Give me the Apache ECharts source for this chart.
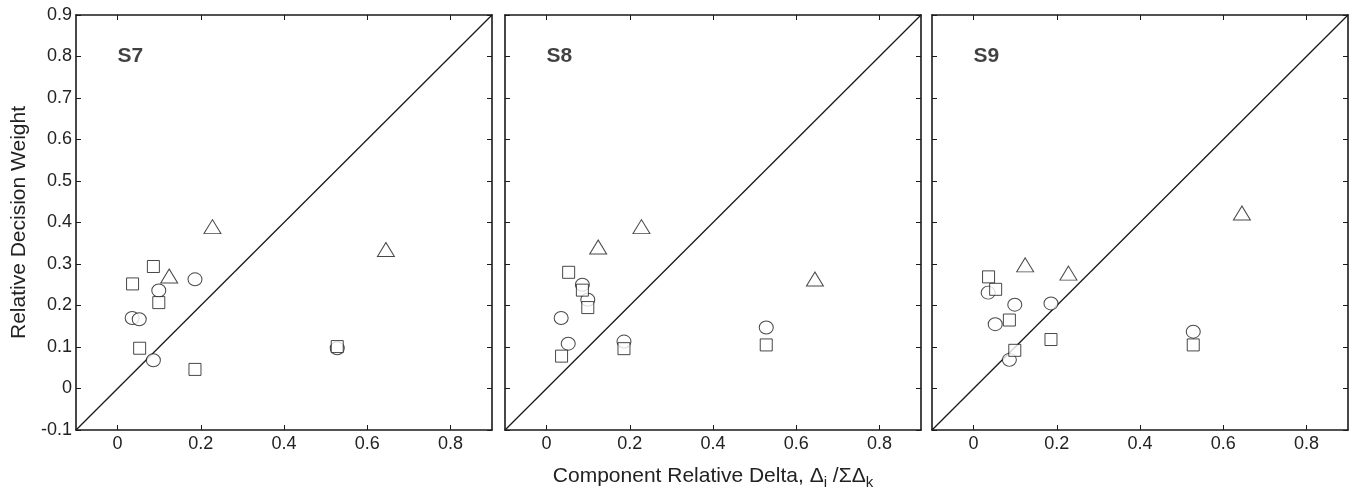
<!DOCTYPE html>
<html>
<head>
<meta charset="utf-8">
<script src="https://cdn.jsdelivr.net/npm/echarts@6/dist/echarts.min.js"></script>
<style>
  html, body { margin: 0; padding: 0; background: #fff; }
  #main { width: 1354px; height: 491px; }
</style>
</head>
<body>
<div id="main"></div>
<script>
// axis ticks
const xTicks = [0, 0.2, 0.4, 0.6, 0.8];
const yTicks = [-0.1, 0, 0.1, 0.2, 0.3, 0.4, 0.5, 0.6, 0.7, 0.8, 0.9];
const axisRange = [-0.1, 0.9];

// component relative delta (x) for each marker group
const circleX = [0.035, 0.052, 0.086, 0.099, 0.186, 0.528];
const squareX = [0.036, 0.053, 0.086, 0.099, 0.186, 0.528];
const triangleX = [0.124, 0.228, 0.645];

// relative decision weights per listener
const panelNames = ['S7', 'S8', 'S9'];
const s7Circle = [0.170, 0.167, 0.068, 0.236, 0.263, 0.097];
const s7Square = [0.252, 0.097, 0.294, 0.207, 0.046, 0.101];
const s7Triangle = [0.271, 0.390, 0.335];
const s8Circle = [0.170, 0.108, 0.250, 0.214, 0.113, 0.147];
const s8Square = [0.078, 0.280, 0.237, 0.195, 0.096, 0.105];
const s8Triangle = [0.341, 0.390, 0.264];
const s9Circle = [0.231, 0.155, 0.069, 0.202, 0.205, 0.137];
const s9Square = [0.269, 0.239, 0.165, 0.092, 0.118, 0.105];
const s9Triangle = [0.298, 0.278, 0.423];

const panelLabelPos = [0, 0.8];

const circles = [s7Circle, s8Circle, s9Circle];
const squares = [s7Square, s8Square, s9Square];
const triangles = [s7Triangle, s8Triangle, s9Triangle];

const font = "'Liberation Sans', Arial, sans-serif";
const ink = '#1a1a1a';
const lefts = [76, 505, 932];

const zip = (xs, ys) => xs.map((x, i) => [x, ys[i]]);
const fmt = v => String(Math.round(v * 10) / 10);

// fixed square panels, no auto-shrinking for labels
const grid = lefts.map(l => ({
  left: l, top: 15, width: 416, height: 415,
  containLabel: false, outerBoundsMode: 'none'
}));
const xAxis = [];
const yAxis = [];
const series = [];

const frame = { onZero: false, lineStyle: { color: ink, width: 1.6 } };

lefts.forEach((l, i) => {
  xAxis.push({
    type: 'value', gridIndex: i, position: 'bottom',
    min: axisRange[0], max: axisRange[1],
    axisLine: frame,
    axisTick: { inside: true, length: 5, customValues: xTicks, lineStyle: { color: ink } },
    axisLabel: { customValues: xTicks, formatter: fmt, color: '#222', fontSize: 18, fontFamily: font, margin: 5 },
    splitLine: { show: false },
    name: i === 1 ? 'Component Relative Delta, {d|Δ}{s|i} {d|/ΣΔ}{s|k}' : '',
    nameLocation: 'middle', nameGap: 33,
    nameTextStyle: {
      color: '#222', fontSize: 21, fontFamily: font,
      rich: {
        d: { fontSize: 21, fontFamily: font, color: '#222' },
        s: { fontSize: 15, fontFamily: font, color: '#222', padding: [12, 0, 0, 0] }
      }
    }
  });
  xAxis.push({
    type: 'value', gridIndex: i, position: 'top',
    min: axisRange[0], max: axisRange[1],
    axisLine: frame,
    axisTick: { inside: true, length: 5, customValues: xTicks, lineStyle: { color: ink } },
    axisLabel: { show: false },
    splitLine: { show: false }
  });
  yAxis.push({
    type: 'value', gridIndex: i, position: 'left',
    min: axisRange[0], max: axisRange[1],
    axisLine: frame,
    axisTick: { inside: true, length: 5, customValues: yTicks, lineStyle: { color: ink } },
    axisLabel: { show: i === 0, customValues: yTicks, formatter: fmt, color: '#222', fontSize: 18, fontFamily: font, margin: 4 },
    splitLine: { show: false },
    name: i === 0 ? 'Relative Decision Weight' : '',
    nameLocation: 'middle', nameGap: 46,
    nameTextStyle: { color: '#222', fontSize: 21, fontFamily: font }
  });
  yAxis.push({
    type: 'value', gridIndex: i, position: 'right',
    min: axisRange[0], max: axisRange[1],
    axisLine: frame,
    axisTick: { inside: true, length: 5, customValues: yTicks, lineStyle: { color: ink } },
    axisLabel: { show: false },
    splitLine: { show: false }
  });

  const xi = i * 2, yi = i * 2;
  const marker = { color: '#fff', borderColor: ink, borderWidth: 1 };

  series.push({
    type: 'line', xAxisIndex: xi, yAxisIndex: yi, silent: true, symbol: 'none',
    data: [[axisRange[0], axisRange[0]], [axisRange[1], axisRange[1]]],
    lineStyle: { color: ink, width: 1.3 }, z: 1
  });
  series.push({
    type: 'scatter', xAxisIndex: xi, yAxisIndex: yi, symbol: 'circle', symbolSize: [14, 13],
    itemStyle: marker, data: zip(circleX, circles[i]), z: 2
  });
  series.push({
    type: 'scatter', xAxisIndex: xi, yAxisIndex: yi, symbol: 'rect', symbolSize: 12,
    itemStyle: marker, data: zip(squareX, squares[i]), z: 3
  });
  series.push({
    type: 'scatter', xAxisIndex: xi, yAxisIndex: yi, symbol: 'triangle', symbolSize: [17, 14],
    itemStyle: marker, data: zip(triangleX, triangles[i]), z: 3
  });
  series.push({
    type: 'scatter', xAxisIndex: xi, yAxisIndex: yi, symbolSize: 0, silent: true,
    data: [panelLabelPos],
    label: {
      show: true, position: 'right', distance: 0, formatter: panelNames[i],
      color: '#111', fontSize: 21, fontWeight: 'bold', fontFamily: font
    }
  });
});

const chart = echarts.init(document.getElementById('main'), null, { renderer: 'canvas' });
chart.setOption({
  animation: false,
  backgroundColor: '#fff',
  grid, xAxis, yAxis, series
});
</script>
</body>
</html>
